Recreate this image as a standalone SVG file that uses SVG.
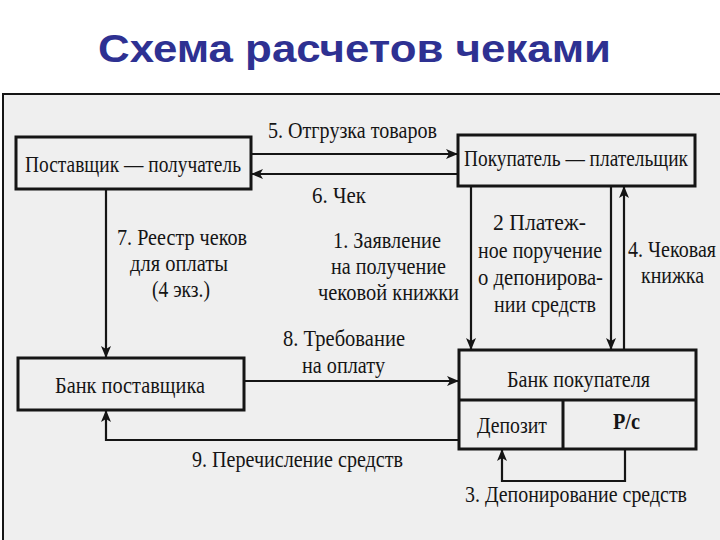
<svg xmlns="http://www.w3.org/2000/svg" width="720" height="540" viewBox="0 0 720 540">
<style>
.t{font-family:"Liberation Serif","DejaVu Serif",serif;font-size:23px;fill:#151515}
.box{fill:none;stroke:#151515;stroke-width:3}
.c{fill:none;stroke:#151515;stroke-width:2.2}
.title{font-family:"Liberation Sans",Arial,sans-serif;font-size:38px;font-weight:bold;fill:#2e3192}
</style>
<defs>
<marker id="a" viewBox="0 0 12 10" refX="12" refY="5" markerWidth="12" markerHeight="10" markerUnits="userSpaceOnUse" orient="auto"><path d="M0,0 L12,5 L0,10 L3,5 z" fill="#151515"/></marker>
</defs>
<rect x="0" y="0" width="720" height="540" fill="#ffffff"/>
<rect x="3" y="94" width="717" height="446" fill="#efefef"/>
<path d="M3,540 V94 H720" fill="none" stroke="#151515" stroke-width="2"/>
<text class="title" x="98" y="62" textLength="513" lengthAdjust="spacingAndGlyphs">Схема расчетов чеками</text>

<g id="n1">
<rect class="box" x="16" y="137" width="235" height="52"/>
<text class="t" x="25" y="172" textLength="216" lengthAdjust="spacingAndGlyphs">Поставщик — получатель</text>
</g>
<g id="n2">
<rect class="box" x="458" y="135" width="237" height="51"/>
<text class="t" x="464" y="166" textLength="224" lengthAdjust="spacingAndGlyphs">Покупатель — плательщик</text>
</g>
<g id="n3">
<rect class="box" x="18" y="358" width="226" height="52"/>
<text class="t" x="55" y="393" textLength="150" lengthAdjust="spacingAndGlyphs">Банк поставщика</text>
</g>
<g id="n4">
<rect class="box" x="459" y="350" width="237" height="99"/>
<path class="box" d="M459,400 H696 M563,400 V449"/>
<text class="t" x="507" y="387" textLength="143" lengthAdjust="spacingAndGlyphs">Банк покупателя</text>
<text class="t" x="477" y="433" textLength="70" lengthAdjust="spacingAndGlyphs">Депозит</text>
<text class="t" x="613" y="429" textLength="27" lengthAdjust="spacingAndGlyphs" font-weight="bold">Р/с</text>
</g>

<g id="connectors">
<path class="c" d="M251,154 H458" marker-end="url(#a)"/>
<path class="c" d="M458,174 H251" marker-end="url(#a)"/>
<path class="c" d="M106,189 V358" marker-end="url(#a)"/>
<path class="c" d="M244,381 H459" marker-end="url(#a)"/>
<path class="c" d="M459,440 H106 V410" marker-end="url(#a)"/>
<path class="c" d="M471,186 V350" marker-end="url(#a)"/>
<path class="c" d="M611,186 V350" marker-end="url(#a)"/>
<path class="c" d="M624,350 V186" marker-end="url(#a)"/>
<path class="c" d="M625,449 V481 H502 V449" marker-end="url(#a)"/>
</g>

<g id="labels">
<text class="t" x="268" y="138" textLength="169" lengthAdjust="spacingAndGlyphs">5. Отгрузка товаров</text>
<text class="t" x="312" y="203" textLength="54" lengthAdjust="spacingAndGlyphs">6. Чек</text>
<text class="t" x="117" y="245" textLength="130" lengthAdjust="spacingAndGlyphs">7. Реестр чеков</text>
<text class="t" x="130" y="271" textLength="98" lengthAdjust="spacingAndGlyphs">для оплаты</text>
<text class="t" x="152" y="297" textLength="58" lengthAdjust="spacingAndGlyphs">(4 экз.)</text>
<text class="t" x="333" y="248" textLength="108" lengthAdjust="spacingAndGlyphs">1. Заявление</text>
<text class="t" x="331" y="274" textLength="115" lengthAdjust="spacingAndGlyphs">на получение</text>
<text class="t" x="318" y="300" textLength="141" lengthAdjust="spacingAndGlyphs">чековой книжки</text>
<text class="t" x="493" y="230" textLength="93" lengthAdjust="spacingAndGlyphs">2  Платеж-</text>
<text class="t" x="478" y="258" textLength="124" lengthAdjust="spacingAndGlyphs">ное поручение</text>
<text class="t" x="478" y="285" textLength="125" lengthAdjust="spacingAndGlyphs">о депонирова-</text>
<text class="t" x="494" y="312" textLength="102" lengthAdjust="spacingAndGlyphs">нии средств</text>
<text class="t" x="628" y="257" textLength="88" lengthAdjust="spacingAndGlyphs">4. Чековая</text>
<text class="t" x="641" y="283" textLength="63" lengthAdjust="spacingAndGlyphs">книжка</text>
<text class="t" x="283" y="346" textLength="122" lengthAdjust="spacingAndGlyphs">8. Требование</text>
<text class="t" x="302" y="373" textLength="83" lengthAdjust="spacingAndGlyphs">на оплату</text>
<text class="t" x="192" y="467" textLength="211" lengthAdjust="spacingAndGlyphs">9. Перечисление средств</text>
<text class="t" x="465" y="502" textLength="222" lengthAdjust="spacingAndGlyphs">3. Депонирование средств</text>
</g>
</svg>
